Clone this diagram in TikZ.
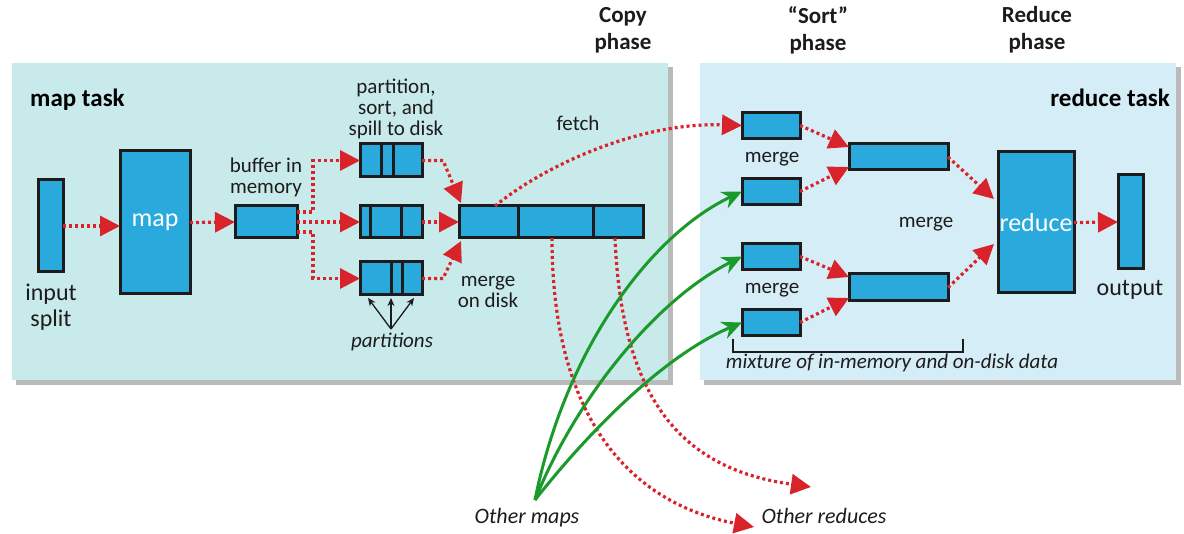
\documentclass[tikz,border=0pt]{standalone}
\usepackage{fontspec}
\setmainfont{Carlito}
\usetikzlibrary{arrows.meta,calc}
\definecolor{boxblue}{HTML}{2AA9DC}
\definecolor{panelL}{HTML}{C8EAEA}
\definecolor{panelR}{HTML}{D5EDF6}
\definecolor{dotred}{HTML}{D9232A}
\definecolor{arrgreen}{HTML}{1A9A2A}
\definecolor{txt}{HTML}{1E1B1C}
\begin{document}
\begin{tikzpicture}[x=1pt,y=-1pt,
  box/.style={draw=txt, line width=3pt, fill=boxblue, inner sep=0pt, outer sep=0pt},
  divider/.style={draw=txt, line width=3pt},
  panel/.style={fill=#1, draw=none},
  shadowp/.style={fill=black!45, draw=none, opacity=0.6},
  redarrow/.style={draw=dotred, line width=3.2pt, dash pattern=on 3pt off 3pt,
     -{Triangle[length=20pt,width=20pt,fill=dotred]}},
  greenarrow/.style={draw=arrgreen, line width=3pt,
     -{Stealth[length=20pt,width=18pt,fill=arrgreen]}},
  partarrow/.style={draw=txt, line width=1.3pt, -{Stealth[length=8pt,width=7pt]}},
  lbl/.style={font=\fontsize{21}{21}\selectfont, text=txt, align=center, inner sep=0pt},
  biglbl/.style={font=\fontsize{24}{26}\selectfont, text=txt, align=center, inner sep=0pt},
  phase/.style={font=\bfseries\fontsize{23}{27}\selectfont, text=txt, align=center, inner sep=0pt},
  title/.style={font=\bfseries\fontsize{25}{25}\selectfont, text=black, inner sep=0pt},
  itl/.style={font=\itshape\fontsize{21}{21}\selectfont, text=txt, inner sep=0pt},
  inbox/.style={font=\fontsize{26}{26}\selectfont, text=white}
]
\useasboundingbox (0,0) rectangle (1184,534);
\fill[white] (0,0) rectangle (1184,534);

% panels with shadows
\fill[shadowp] (16,67) rectangle (673,385);
\fill[panel=panelL] (12,63) rectangle (668,380);
\fill[shadowp] (704,67) rectangle (1181,385);
\fill[panel=panelR] (700,63) rectangle (1176,380);

% titles
\node[title, anchor=west] (maptask) at (30,100) {map task};
\node[title, anchor=east] (redtask) at (1170,98) {reduce task};
\node[phase] (copyph) at (623,30) {Copy\\phase};
\node[phase] (sortph) at (818,30) {“Sort”\\phase};
\node[phase] (redph) at (1037,30) {Reduce\\phase};

% map side boxes
\node[box, minimum width=25pt, minimum height=92pt] (split) at (50.5,226) {};
\node[box, minimum width=70pt, minimum height=143pt, inbox] (map) at (155,222.5) {map};
\node[box, minimum width=62pt, minimum height=32pt] (buf) at (266,222) {};
\node[box, minimum width=62pt, minimum height=33pt] (sp1) at (391,160.5) {};
\node[box, minimum width=62pt, minimum height=32pt] (sp2) at (391,222) {};
\node[box, minimum width=62pt, minimum height=33pt] (sp3) at (391,278.5) {};
\node[box, minimum width=184pt, minimum height=32pt] (mrg) at (551,222) {};

\draw[divider] ([xshift=21pt]sp1.north west) -- ([xshift=21pt]sp1.south west);
\draw[divider] ([xshift=33pt]sp1.north west) -- ([xshift=33pt]sp1.south west);
\draw[divider] ([xshift=10pt]sp2.north west) -- ([xshift=10pt]sp2.south west);
\draw[divider] ([xshift=41pt]sp2.north west) -- ([xshift=41pt]sp2.south west);
\draw[divider] ([xshift=31pt]sp3.north west) -- ([xshift=31pt]sp3.south west);
\draw[divider] ([xshift=42pt]sp3.north west) -- ([xshift=42pt]sp3.south west);
\draw[divider] ([xshift=59pt]mrg.north west) -- ([xshift=59pt]mrg.south west);
\draw[divider] ([xshift=134pt]mrg.north west) -- ([xshift=134pt]mrg.south west);

% map side labels
\node[biglbl] (inlbl) at (51,307) {input\\split};
\node[lbl] (buflbl) at (266,177) {buffer in\\memory};
\node[lbl] (spilllbl) at (396,109) {partition,\\sort, and\\spill to disk};
\node[lbl] (mdlbl) at (488,292) {merge\\on disk};
\node[itl] (parts) at (392,342) {partitions};
\node[lbl] (fetchlbl) at (578,123) {fetch};

% reduce side boxes
\node[box, minimum width=58pt, minimum height=26pt] (r1) at (771,125.5) {};
\node[box, minimum width=58pt, minimum height=26pt] (r2) at (771,191.5) {};
\node[box, minimum width=58pt, minimum height=26pt] (r3) at (771,256.5) {};
\node[box, minimum width=58pt, minimum height=26pt] (r4) at (771,322.5) {};
\node[box, minimum width=99pt, minimum height=26pt] (m1) at (898.5,157) {};
\node[box, minimum width=99pt, minimum height=27pt] (m2) at (898.5,287.5) {};
\node[box, minimum width=76pt, minimum height=141pt, inbox] (red) at (1036,222.5) {reduce};
\node[box, minimum width=25pt, minimum height=94pt] (out) at (1130.5,222) {};

\node[lbl] (mg1) at (772,159) {merge};
\node[lbl] (mg2) at (772,290) {merge};
\node[lbl] (mg3) at (926,224) {merge};
\node[biglbl] (outlbl) at (1130,290) {output};
\node[itl] (mix) at (892,363) {mixture of in-memory and on-disk data};
\draw[draw=txt, line width=1.2pt] (733,339) -- (733,352) -- (963,352) -- (963,339);

% bottom labels
\node[itl, font=\itshape\fontsize{22}{22}\selectfont] (othermaps) at (527,518) {Other maps};
\node[itl, font=\itshape\fontsize{22}{22}\selectfont] (otherred) at (824,516) {Other reduces};
\coordinate (om) at (535,500);
\coordinate (orA) at (754,527);
\coordinate (orB) at (811,487);

% map-side connectors
\draw[redarrow] (split.east) -- (split.east -| map.west);
\draw[redarrow] (map.east) -- (buf.west);
\coordinate (j) at (313,222);
\draw[redarrow] ([yshift=10pt]buf.east) -- ([yshift=10pt]buf.east -| j) |- (sp1.west);
\draw[redarrow] (buf.east) -- (sp2.west);
\draw[redarrow] ([yshift=-10pt]buf.east) -- ([yshift=-10pt]buf.east -| j) |- (sp3.west);
\draw[redarrow] (sp1.east) -- ++(21,0) -- ([xshift=2pt,yshift=3pt]mrg.north west);
\draw[redarrow] (sp2.east) -- (mrg.west);
\draw[redarrow] (sp3.east) -- ++(21,0) -- ([xshift=2pt,yshift=-3pt]mrg.south west);

\coordinate (pp) at (391,329);
\draw[partarrow] (pp) -- ([xshift=8pt,yshift=-3pt]sp3.south west);
\draw[partarrow] (pp) -- ([yshift=-3pt]sp3.south);
\draw[partarrow] (pp) -- ([xshift=-8pt,yshift=-3pt]sp3.south east);

% fetch and other reduces
\draw[redarrow] ([xshift=36pt]mrg.north west) .. controls (545,165) and (640,122) .. (r1.west);
\draw[redarrow] ([xshift=93pt]mrg.south west) .. controls (552,430) and (640,505) .. (orA);
\draw[redarrow] ([xshift=156pt]mrg.south west) .. controls (622,410) and (690,470) .. (orB);

% green arrows
\draw[greenarrow] (om) .. controls (565,350) and (650,235) .. (r2.west);
\draw[greenarrow] (om) .. controls (575,400) and (655,300) .. (r3.west);
\draw[greenarrow] (om) .. controls (590,430) and (665,355) .. (r4.west);

% reduce-side connectors
\draw[redarrow] (r1.east) -- ([yshift=-3pt]m1.north west);
\draw[redarrow] (r2.east) -- ([yshift=3pt]m1.south west);
\draw[redarrow] (r3.east) -- ([yshift=-3pt]m2.north west);
\draw[redarrow] (r4.east) -- ([yshift=3pt]m2.south west);
\draw[redarrow] (m1.east) -- ([xshift=-4pt,yshift=-47pt]red.north west);
\draw[redarrow] (m2.east) -- ([xshift=-4pt,yshift=49pt]red.south west);
\draw[redarrow] (red.east) -- (out.west);
\end{tikzpicture}
\end{document}
